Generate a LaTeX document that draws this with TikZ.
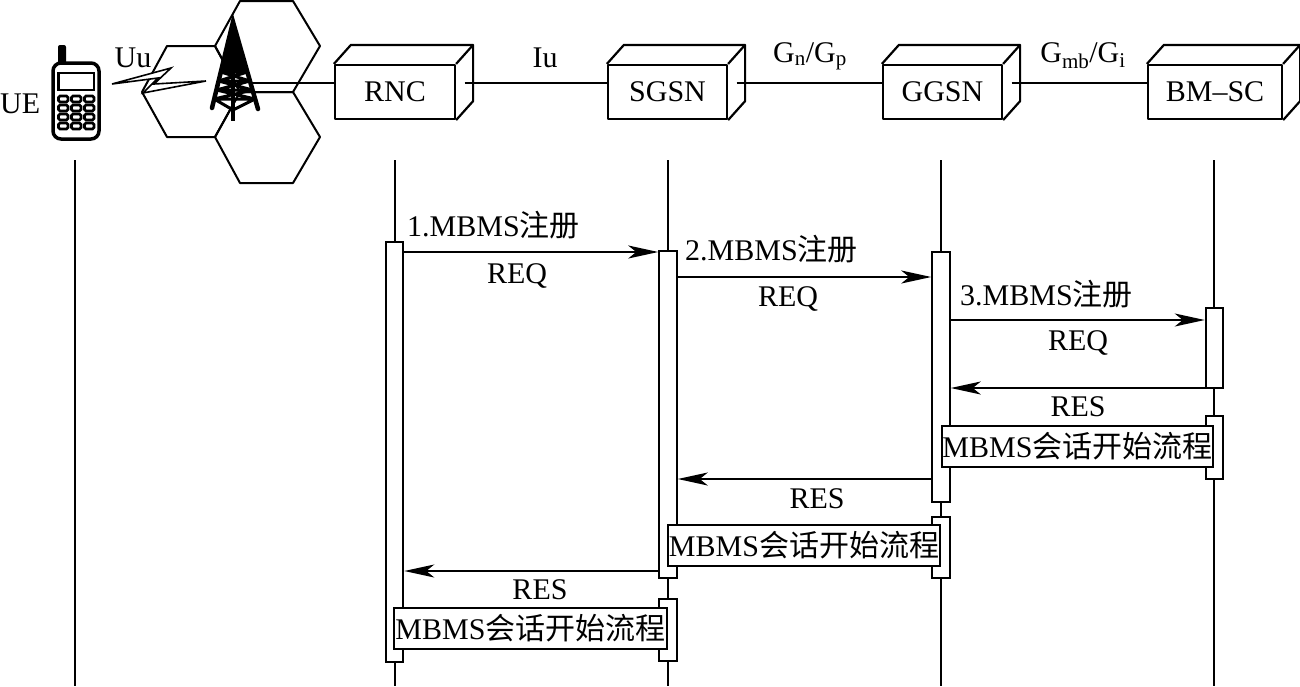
\documentclass[tikz,border=0pt]{standalone}
\usepackage{fontspec}
\setmainfont{Liberation Serif}
\newfontfamily\cjk{Noto Sans CJK SC}
\usetikzlibrary{arrows.meta,calc}
\newcommand{\zhs}[1]{{\cjk #1}}
\newcommand{\nebackface}[1]{%
  \draw[boxl] (#1.north west) -- ++(17,-19) -| ($(#1.south east)+(17,-19)$) -- (#1.south east);
  \draw[boxl] (#1.north east) -- ++(17,-19);}
\begin{document}
\begin{tikzpicture}[x=1pt,y=-1pt,
  every node/.style={font=\fontsize{30}{36}\selectfont, inner sep=0pt},
  boxl/.style={line width=2.2pt, line join=round},
  nebox/.style={draw, boxl, fill=white, minimum width=120pt, minimum height=54pt},
  link/.style={line width=1.8pt},
  life/.style={line width=1.3pt},
  act/.style={draw, line width=2pt, fill=white, minimum width=17.5pt},
  msg/.style={line width=2pt, -{Stealth[length=30pt,width=13pt,inset=8pt]}},
  proc/.style={draw, line width=2.2pt, fill=white, minimum height=41pt},
  lbl/.style={anchor=base},
  hexl/.style={line width=2pt, line join=round}
]
\useasboundingbox (0,0) rectangle (1300,686);

% ---------- cells ----------
\draw[hexl] (215,46) -- (240,1) -- (293,1) -- (320,46) -- (293,92) -- (240,92) -- cycle;
\draw[hexl] (215,137) -- (240,92) -- (293,92) -- (320,137) -- (293,183) -- (240,183) -- cycle;
\draw[hexl] (142,92) -- (167,46) -- (215,46) -- (240,92) -- (215,137) -- (167,137) -- cycle;

% ---------- tower ----------
\fill (233,22) -- (220.8,72) -- (247.4,72) -- cycle;
\draw[line width=4.5pt, line cap=round, line join=miter] (212,108) -- (233,22) -- (258,109);
\draw[line width=3pt] (220.8,72) -- (247.4,72)
  (218.6,81) -- (250,81) (216.4,90) -- (252.5,90) (214.2,99) -- (255.1,99)
  (220.8,72) -- (250,81) (247.4,72) -- (218.6,81)
  (218.6,81) -- (252.5,90) (250,81) -- (216.4,90)
  (216.4,90) -- (255.1,99) (252.5,90) -- (214.2,99)
  (214.2,99) -- (233,110) -- (255.1,99);
\draw[line width=3.5pt] (233,60) -- (233,121);
\coordinate (tower) at (250,83);

% ---------- UE phone ----------
\fill[rounded corners=2pt] (58,45) rectangle (66,64);
\draw[line width=3.5pt, rounded corners=8pt, fill=white] (53,63) rectangle (99,139);
\draw[line width=2.2pt] (58.5,73) rectangle (94,90);
\foreach \kx in {58.5,71.5,84.5}
  \foreach \ky in {96,105,114,123}
    \draw[line width=2.6pt, rounded corners=1.5pt] (\kx,\ky) rectangle ++(9.5,6);

% ---------- radio bolt ----------
\draw[line width=1.6pt, fill=white, line join=miter]
  (112,84) -- (171,68) -- (154,84) -- (206,81) -- (143,93) -- (158,78) -- cycle;

% ---------- network elements ----------
\node[nebox] (rnc) at (395,92) {RNC};
\node[nebox, minimum width=119pt] (sgsn) at (667.5,92) {SGSN};
\node[nebox, minimum width=119pt] (ggsn) at (942.5,92) {GGSN};
\node[nebox, minimum width=134pt] (bmsc) at (1215,92) {BM--SC};
\nebackface{rnc}
\nebackface{sgsn}
\nebackface{ggsn}
\nebackface{bmsc}

\draw[link] (tower) -- ($(rnc.west)+(0,-9)$);
\draw[link] ($(rnc.east)+(8.5,-9)$) -- ($(sgsn.west)+(0,-9)$);
\draw[link] ($(sgsn.east)+(8.5,-9)$) -- ($(ggsn.west)+(0,-9)$);
\draw[link] ($(ggsn.east)+(8.5,-9)$) -- ($(bmsc.west)+(0,-9)$);

% ---------- interface labels ----------
\node[anchor=base west] (ue) at (0,113) {UE};
\node[lbl] (uu) at (133,67) {Uu};
\node[lbl] (iu) at (545,67) {Iu};
\node[lbl] (gngp) at (810,62) {G\textsubscript{n}/G\textsubscript{p}};
\node[lbl] (gmbgi) at (1083,62) {G\textsubscript{mb}/G\textsubscript{i}};

% ---------- lifelines ----------
\foreach \n/\x in {ue/75,rn/395,sg/668,gg/941,bm/1214}{
  \coordinate (\n T) at (\x,160);
  \coordinate (\n B) at (\x,686);
  \draw[life] (\n T) -- (\n B);
}

% ---------- activations ----------
\node[act, minimum height=420pt] (rncA) at (394.5,452) {};
\node[act, minimum height=327pt] (sgA1) at (668,414.5) {};
\node[act, minimum height=62pt] (sgA2) at (668,630) {};
\node[act, minimum height=250pt] (ggA1) at (941,377) {};
\node[act, minimum height=61pt] (ggA2) at (941,547.5) {};
\node[act, minimum height=80pt] (bmA1) at (1214.5,348) {};
\node[act, minimum height=63pt] (bmA2) at (1214.5,447.5) {};

% ---------- messages ----------
\coordinate (y1) at (0,252);
\coordinate (y2) at (0,277);
\coordinate (y3) at (0,320);
\coordinate (y4) at (0,388);
\coordinate (y5) at (0,479);
\coordinate (y6) at (0,571);
\draw[msg] (rncA.east |- y1) -- (sgA1.west |- y1);
\draw[msg] (sgA1.east |- y2) -- (ggA1.west |- y2);
\draw[msg] (ggA1.east |- y3) -- (bmA1.west |- y3);
\draw[msg] (bmA1.west |- y4) -- (ggA1.east |- y4);
\draw[msg] (ggA1.west |- y5) -- (sgA1.east |- y5);
\draw[msg] (sgA1.west |- y6) -- (rncA.east |- y6);

\node[anchor=base west] (l1) at (407,236) {1.MBMS\zhs{注册}};
\node[lbl] (r1) at (517,283) {REQ};
\node[anchor=base west] (l2) at (685,260) {2.MBMS\zhs{注册}};
\node[lbl] (r2) at (788,306) {REQ};
\node[anchor=base west] (l3) at (960,305) {3.MBMS\zhs{注册}};
\node[lbl] (r3) at (1078,350) {REQ};
\node[lbl] (s1) at (1078,416) {RES};
\node[lbl] (s2) at (817,508) {RES};
\node[lbl] (s3) at (540,599) {RES};

% ---------- procedures ----------
\node[proc, minimum width=271pt] (p1) at (1077.5,446.5) {MBMS\zhs{会话开始流程}};
\node[proc, minimum width=272pt] (p2) at (804,545.5) {MBMS\zhs{会话开始流程}};
\node[proc, minimum width=273pt] (p3) at (530.5,628.5) {MBMS\zhs{会话开始流程}};
\end{tikzpicture}
\end{document}
